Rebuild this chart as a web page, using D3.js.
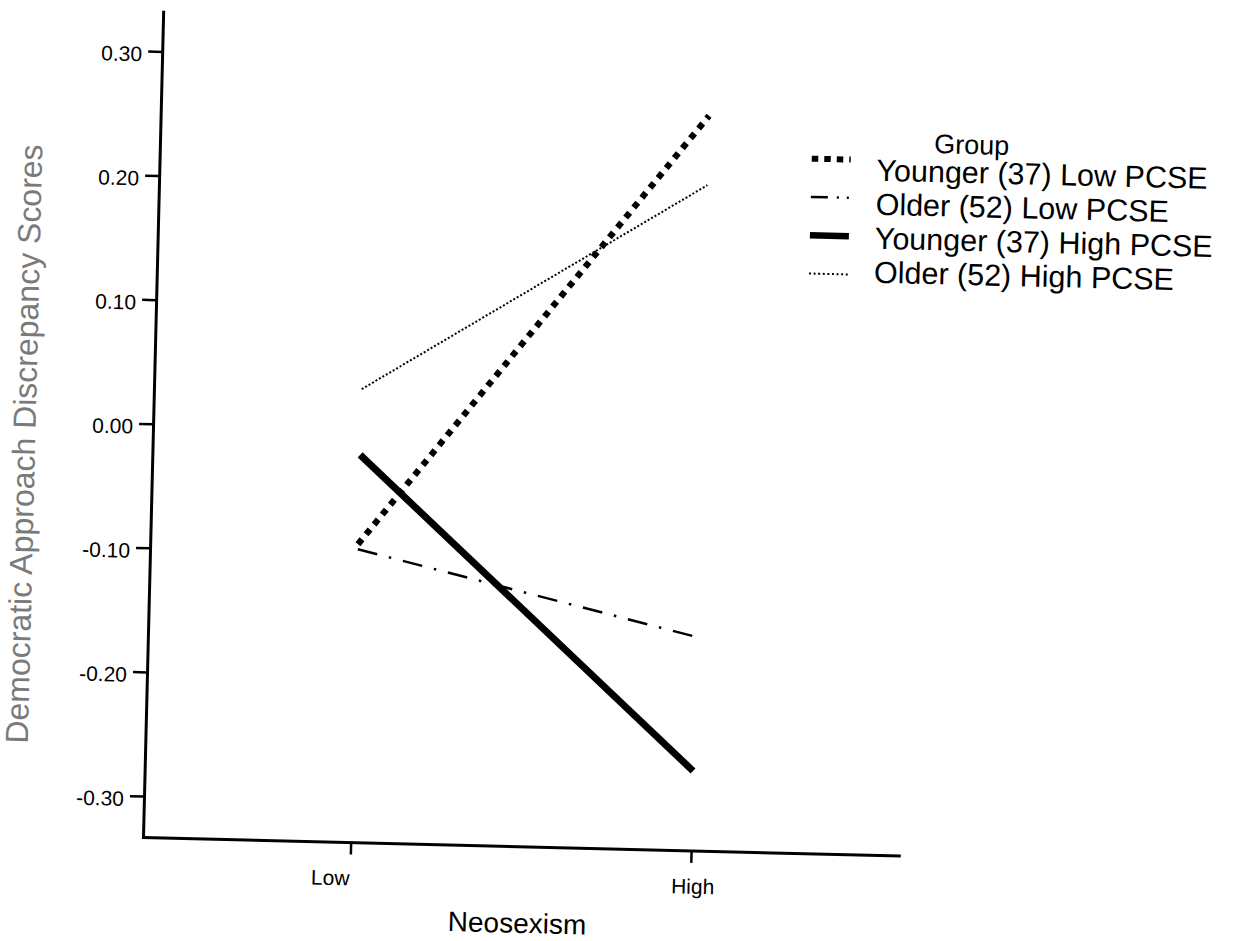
<!DOCTYPE html>
<html>
<head>
<meta charset="utf-8">
<script src="https://cdn.jsdelivr.net/npm/d3@7"></script>
<style>
  body { margin: 0; background: #fff; }
  svg { display: block; }
</style>
</head>
<body>
<div id="chart"></div>
<script>
// 数据
const levels = ["Low", "High"];
const groups = ["Younger (37) Low PCSE", "Older (52) Low PCSE", "Younger (37) High PCSE", "Older (52) High PCSE"];
const youngerLowPCSE = [-0.093, 0.259];
const olderLowPCSE = [-0.097, -0.161];
const youngerHighPCSE = [-0.021, -0.269];
const olderHighPCSE = [0.032, 0.203];
const yTicks = [-0.30, -0.20, -0.10, 0.00, 0.10, 0.20, 0.30];

// 线型
const styles = [
    { width: 6.3, dash: "6.3,6.5", legendDash: "6.5,6", legendWidth: 6 },
    { width: 2.5, dash: "20,12,2.5,12", legendDash: "17,9,2,8,2,10", legendWidth: 2.5 },
    { width: 7, dash: null, legendDash: null, legendWidth: 6.5 },
    { width: 2, dash: "2,2", legendDash: "2,2.6", legendWidth: 2 }
];
const seriesValues = [youngerLowPCSE, olderLowPCSE, youngerHighPCSE, olderHighPCSE];

const width = 1237, height = 941;
const origin = { x: 143, y: 837 };
const tilt = 1.4; // 扫描件略微倾斜
const plotW = 756, plotH = 825.5;
const font = "'Liberation Sans', Arial, sans-serif";

const svg = d3.select("#chart").append("svg")
    .attr("width", width)
    .attr("height", height)
    .attr("font-family", font);

svg.append("rect").attr("width", width).attr("height", height).attr("fill", "#fff");

const g = svg.append("g")
    .attr("transform", `translate(${origin.x},${origin.y}) rotate(${tilt})`);

const x = d3.scalePoint().domain(levels).range([0, plotW]).padding(0.61);
const y = d3.scaleLinear().domain([-0.333, 0.332]).range([0, -plotH]);

// Y轴
const yAxis = g.append("g")
    .call(d3.axisLeft(y).tickValues(yTicks).tickFormat(d => d.toFixed(2))
        .tickSize(14).tickSizeOuter(0).tickPadding(6))
    .attr("font-family", font);
yAxis.select(".domain").attr("stroke-width", 3).attr("stroke-linecap", "square");
yAxis.selectAll(".tick line").attr("stroke-width", 2.5);
yAxis.selectAll(".tick text").attr("font-size", 21).attr("dy", "0.47em").attr("fill", "#000");

// X轴
const labelShift = { Low: -20, High: 2 };
const xAxis = g.append("g")
    .call(d3.axisBottom(x).tickSize(12.5).tickSizeOuter(0).tickPadding(16))
    .attr("font-family", font);
xAxis.select(".domain").attr("stroke-width", 3).attr("stroke-linecap", "square");
xAxis.selectAll(".tick line").attr("stroke-width", 2.5);
xAxis.selectAll(".tick text")
    .attr("font-size", 21)
    .attr("fill", "#000")
    .attr("dx", d => labelShift[d]);

// 折线
const line = d3.line()
    .x((d, i) => x(levels[i]))
    .y(d => y(d));

g.selectAll("path.series")
    .data(seriesValues)
    .enter()
    .append("path")
    .attr("class", "series")
    .attr("fill", "none")
    .attr("stroke", "#000")
    .attr("stroke-width", (d, i) => styles[i].width)
    .attr("stroke-dasharray", (d, i) => styles[i].dash)
    .attr("d", line);

// 轴标题
g.append("text")
    .attr("x", 376)
    .attr("y", 86.6)
    .attr("text-anchor", "middle")
    .attr("font-size", 28)
    .attr("fill", "#000")
    .text("Neosexism");

g.append("text")
    .attr("transform", "translate(-117.5,-390) rotate(-90)")
    .attr("text-anchor", "middle")
    .attr("font-size", 32)
    .attr("fill", "#7a7a7a")
    .text("Democratic Approach Discrepancy Scores");

// 图例
const legend = g.append("g");
legend.append("text")
    .attr("x", 774)
    .attr("y", -703)
    .attr("font-size", 27)
    .attr("fill", "#000")
    .text("Group");

groups.forEach((name, i) => {
    const sy = -694.5 + i * 38.3;
    legend.append("line")
        .attr("x1", 652).attr("x2", 691)
        .attr("y1", sy).attr("y2", sy)
        .attr("stroke", "#000")
        .attr("stroke-width", styles[i].legendWidth)
        .attr("stroke-dasharray", styles[i].legendDash);
    legend.append("text")
        .attr("x", 717)
        .attr("y", -674 + i * 34)
        .attr("font-size", 30.5)
        .attr("fill", "#000")
        .text(name);
});
</script>
</body>
</html>
